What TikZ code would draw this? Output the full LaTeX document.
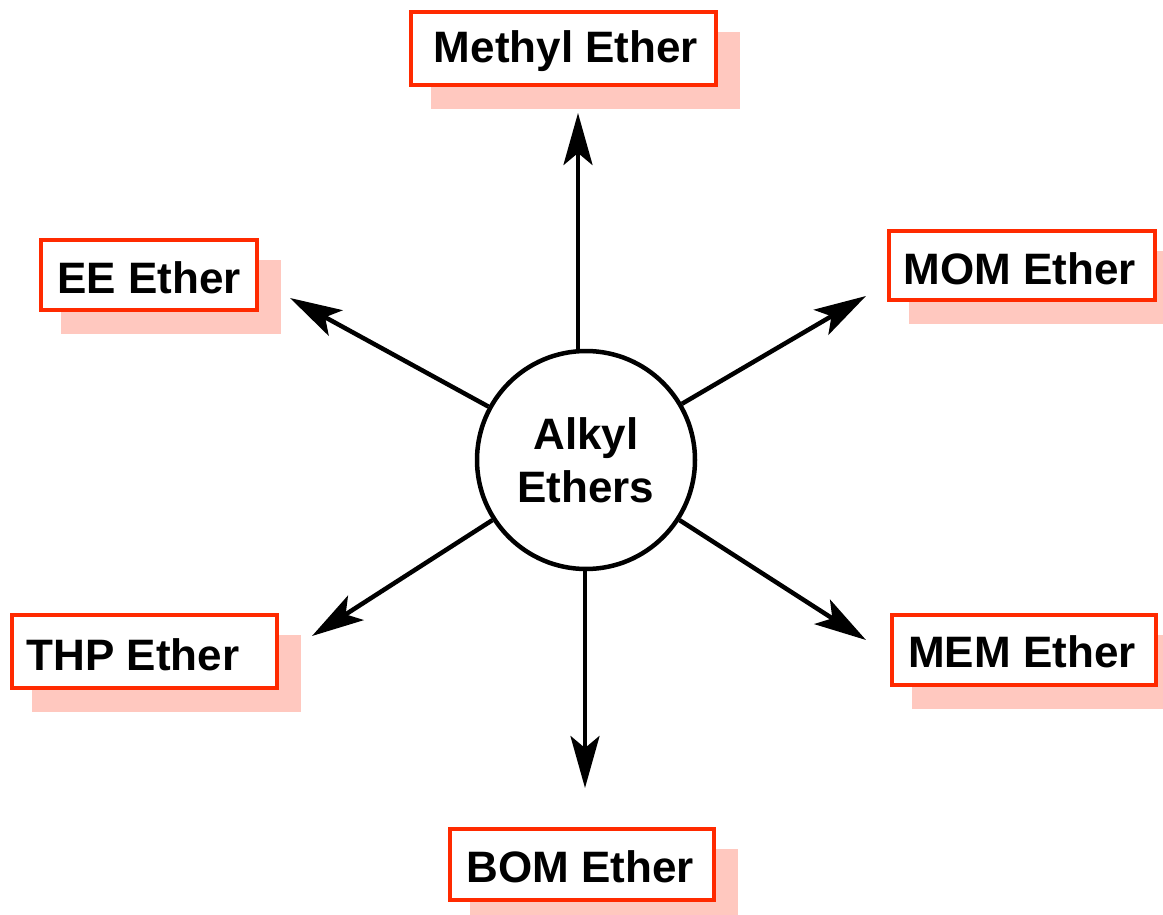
\documentclass[tikz,border=0pt]{standalone}
\usepackage{fontspec}
\setmainfont{Liberation Sans}
\usetikzlibrary{arrows.meta}
\definecolor{boxred}{HTML}{FF2A00}
\definecolor{shadowpink}{HTML}{FFC8BF}
\begin{document}
\begin{tikzpicture}[x=1pt,y=-1pt,
  lbl/.style={font=\fontsize{44}{52}\selectfont\bfseries, inner sep=0pt},
  ebox/.style={draw=boxred, line width=4.5pt, fill=white, inner sep=0pt},
  shad/.style={fill=shadowpink, inner sep=0pt, draw=none},
  arr/.style={line width=4.5pt, -{Stealth[length=52pt,width=29pt,inset=12pt]}}]
\useasboundingbox (0,0) rectangle (1163,915);
% shadows
\node[shad, minimum width=309pt, minimum height=77pt] (s1) at (585.5,70.5) {};
\node[shad, minimum width=220pt, minimum height=74pt] (s2) at (171,297) {};
\node[shad, minimum width=270pt, minimum height=73pt] (s3) at (1044,287.5) {};
\node[shad, minimum width=269pt, minimum height=77pt] (s4) at (166.5,673.5) {};
\node[shad, minimum width=268pt, minimum height=74pt] (s5) at (1046,672) {};
\node[shad, minimum width=268pt, minimum height=75pt] (s6) at (604,886.5) {};
% boxes
\node[ebox, minimum width=305pt, minimum height=73pt] (methyl) at (563.5,48.5) {};
\node[ebox, minimum width=216pt, minimum height=70pt] (ee) at (149,275) {};
\node[ebox, minimum width=266pt, minimum height=69pt] (mom) at (1022,265.5) {};
\node[ebox, minimum width=265pt, minimum height=73pt] (thp) at (144.5,651.5) {};
\node[ebox, minimum width=264pt, minimum height=70pt] (mem) at (1024,650) {};
\node[ebox, minimum width=264pt, minimum height=71pt] (bom) at (582,864.5) {};
% labels
\node[lbl] (tmethyl) at (566,51) {Methyl Ether};
\node[lbl] (tee) at (149,278) {EE Ether};
\node[lbl] (tmom) at (1020,269) {MOM Ether};
\node[lbl] (tthp) at (133,655) {THP Ether};
\node[lbl] (tmem) at (1022,652) {MEM Ether};
\node[lbl] (tbom) at (580,867) {BOM Ether};
% centre
\node[circle, draw, line width=4.5pt, fill=white, minimum size=218pt, inner sep=0pt,
      align=center, font=\fontsize{44}{53}\selectfont\bfseries] (c) at (586,460) {Alkyl\\Ethers};
% arrow tips
\coordinate (a1) at (578,113);
\coordinate (a2) at (290,298);
\coordinate (a3) at (866,296);
\coordinate (a4) at (312,636);
\coordinate (a5) at (866,640);
\coordinate (a6) at (585,788);
\draw[arr] (c.north -| a1) -- (a1);
\draw[arr] (c) -- (a2);
\draw[arr] (c) -- (a3);
\draw[arr] (c) -- (a4);
\draw[arr] (c) -- (a5);
\draw[arr] (c.south -| a6) -- (a6);
\end{tikzpicture}
\end{document}
